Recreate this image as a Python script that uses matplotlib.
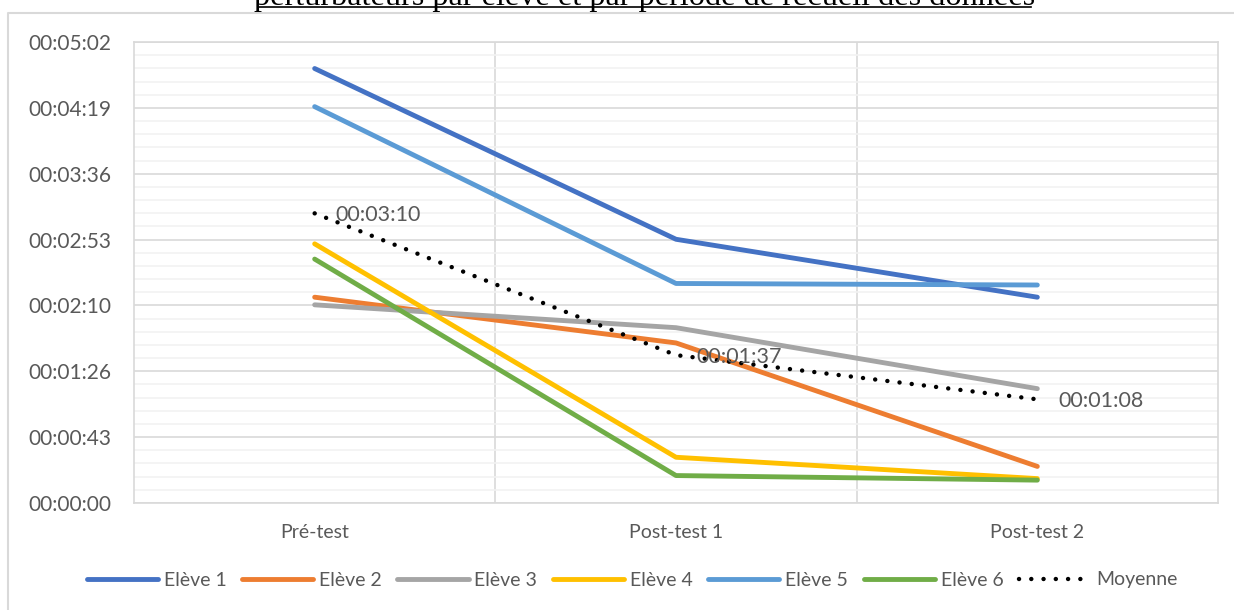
import matplotlib
matplotlib.use("Agg")
import matplotlib.pyplot as plt
from matplotlib.lines import Line2D
from matplotlib.ticker import MultipleLocator, FuncFormatter

# durées en secondes
periodes = ["Pré-test", "Post-test 1", "Post-test 2"]
eleve_1 = [285, 173, 135]
eleve_2 = [135, 105, 24]
eleve_3 = [130, 115, 75]
eleve_4 = [170, 30, 16]
eleve_5 = [260, 144, 143]
eleve_6 = [160, 18, 15]
moyenne = [190, 97, 68]

series = [
    ("Elève 1", eleve_1, "#4472C4"),
    ("Elève 2", eleve_2, "#ED7D31"),
    ("Elève 3", eleve_3, "#A5A5A5"),
    ("Elève 4", eleve_4, "#FFC000"),
    ("Elève 5", eleve_5, "#5B9BD5"),
    ("Elève 6", eleve_6, "#70AD47"),
]

W, H = 1234, 610
FONT = "Lato"
TXT = "#595959"
GRID = "#D9D9D9"


def hms(v, _pos=None):
    s = int(round(v))
    return f"{s // 3600:02d}:{(s % 3600) // 60:02d}:{s % 60:02d}"


fig = plt.figure(figsize=(W / 100, H / 100), dpi=100)
ax = fig.add_axes([134 / W, 1 - 503 / H, (1218 - 134) / W, (503 - 42) / H])

x = list(range(len(periodes)))
for name, vals, col in series:
    ax.plot(x, vals, color=col, lw=3.5, solid_capstyle="round",
            solid_joinstyle="round", label=name, zorder=3)
ax.plot(x, moyenne, color="black", lw=3.2, dash_capstyle="round",
        linestyle=(0, (0.01, 2.75)), label="Moyenne", zorder=4)

for xi, v in zip(x, moyenne):
    ax.annotate(hms(v), (xi, v), xytext=(15, -1), textcoords="offset points",
                ha="left", va="center", fontsize=15.5, color=TXT, family=FONT,
                zorder=5)

# axe des y : unité principale 0,0005 jour = 43,2 s
ax.set_ylim(0, 302.4)
ax.yaxis.set_major_locator(MultipleLocator(43.2))
ax.yaxis.set_minor_locator(MultipleLocator(8.64))
ax.yaxis.set_major_formatter(FuncFormatter(hms))
ax.set_xlim(-0.5, 2.5)
ax.set_xticks(x)
ax.set_xticklabels(periodes)
ax.set_xticks([0.5, 1.5], minor=True)

ax.grid(which="major", axis="y", color=GRID, lw=1.2, zorder=0)
ax.grid(which="minor", axis="y", color="#F2F2F2", lw=1.2, zorder=0)
ax.grid(which="minor", axis="x", color=GRID, lw=1.2, zorder=0)
ax.tick_params(which="both", length=0)
ax.tick_params(axis="y", pad=16, labelsize=15, labelcolor=TXT)
ax.tick_params(axis="x", pad=15, labelsize=14, labelcolor=TXT)
for lab in ax.get_xticklabels() + ax.get_yticklabels():
    lab.set_family(FONT)
for sp in ax.spines.values():
    sp.set_color(GRID)
    sp.set_linewidth(1.2)

leg = fig.legend(loc="center", bbox_to_anchor=(632 / W, 1 - 580 / H), ncol=7,
                 frameon=False, handlelength=3.66, handletextpad=0.3,
                 columnspacing=0.8, prop={"family": FONT, "size": 14})
for t in leg.get_texts():
    t.set_color(TXT)

# cadre du graphique (haut et gauche visibles)
fig.add_artist(Line2D([8 / W, 8 / W, 1], [0, 1 - 13 / H, 1 - 13 / H],
                      transform=fig.transFigure, color=GRID, lw=1.5))

# titre coupé en haut, souligné
fig.text(644.5 / W, 1 - 5 / H,
         "perturbateurs par élève et par période de recueil des données",
         ha="center", va="baseline", fontsize=23.2, family="Liberation Serif",
         color="black")
fig.add_artist(Line2D([258 / W, 1031 / W], [1 - 7 / H, 1 - 7 / H],
                      transform=fig.transFigure, color="black", lw=1.2))

fig.savefig("out.png", dpi=100)
